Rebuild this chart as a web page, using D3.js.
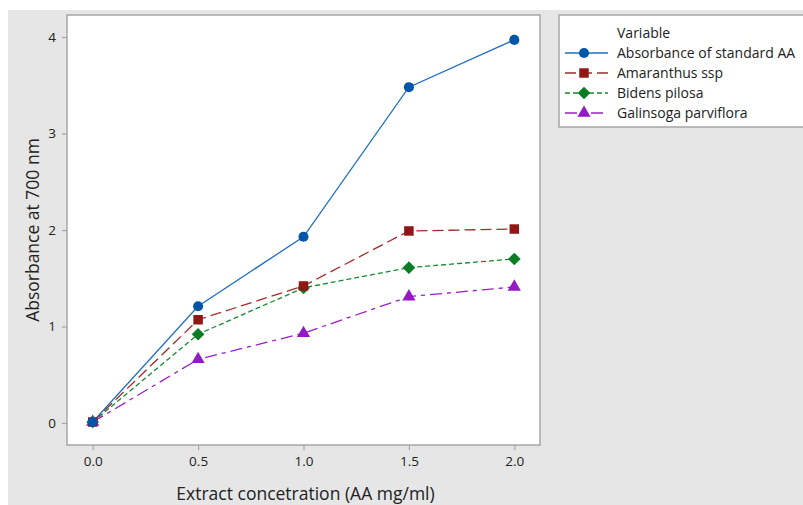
<!DOCTYPE html>
<html>
<head>
<meta charset="utf-8">
<script src="https://cdn.jsdelivr.net/npm/d3@7"></script>
<style>
  body { margin: 0; background: #fff; }
  text { font-family: "Open Sans", "Noto Sans", sans-serif; fill: #222; }
</style>
</head>
<body>
<div id="chart"></div>
<script>
// valeurs
const concentrations = [0.0, 0.5, 1.0, 1.5, 2.0];
const standardAA = [0.01, 1.21, 1.93, 3.48, 3.97];
const amaranthus = [0.01, 1.07, 1.42, 1.99, 2.01];
const bidens = [0.01, 0.92, 1.40, 1.61, 1.70];
const galinsoga = [0.01, 0.66, 0.93, 1.31, 1.41];
const xTicks = [0.0, 0.5, 1.0, 1.5, 2.0];
const yTicks = [0, 1, 2, 3, 4];

// losange "carré tourné" comme dans Minitab
const wideDiamond = {
  draw(ctx, size) {
    const r = Math.sqrt(size / 2);
    ctx.moveTo(0, -r); ctx.lineTo(r, 0); ctx.lineTo(0, r); ctx.lineTo(-r, 0); ctx.closePath();
  }
};

const series = [
  { name: "Absorbance of standard AA", values: standardAA, color: "#1f6fc4", mark: "#0055a8", dash: null, symbol: d3.symbolCircle, size: 80 },
  { name: "Amaranthus ssp", values: amaranthus, color: "#a52a2a", mark: "#931616", dash: "11,5", symbol: d3.symbolSquare, size: 90 },
  { name: "Bidens pilosa", values: bidens, color: "#138a30", mark: "#0a7d22", dash: "5,3", symbol: wideDiamond, size: 80 },
  { name: "Galinsoga parviflora", values: galinsoga, color: "#9a1fc8", mark: "#9519c4", dash: "12,5,4,5", symbol: d3.symbolTriangle, size: 75 }
];

const W = 803, H = 505;
const plot = { left: 67, top: 15, right: 540, bottom: 445 };

const svg = d3.select("#chart").append("svg").attr("width", W).attr("height", H);

// fond gris
svg.append("rect").attr("x", 8).attr("y", 10).attr("width", W - 8).attr("height", H - 10).attr("fill", "#e6e6e6");

svg.append("rect")
  .attr("x", plot.left).attr("y", plot.top)
  .attr("width", plot.right - plot.left).attr("height", plot.bottom - plot.top)
  .attr("fill", "#fff").attr("stroke", "#a6a6a6").attr("stroke-width", 1.5);

const x = d3.scaleLinear().domain([0, 2]).range([92.7, 514.3]);
const y = d3.scaleLinear().domain([0, 4]).range([423, 37]);

// axes
const xAxis = svg.append("g").attr("transform", `translate(0,${plot.bottom})`)
  .call(d3.axisBottom(x).tickValues(xTicks).tickFormat(d3.format(".1f")).tickSize(5).tickPadding(6));
const yAxis = svg.append("g").attr("transform", `translate(${plot.left},0)`)
  .call(d3.axisLeft(y).tickValues(yTicks).tickFormat(d3.format("d")).tickSize(5).tickPadding(6));
[xAxis, yAxis].forEach(a => {
  a.select(".domain").remove();
  a.selectAll(".tick line").attr("stroke", "#a6a6a6").attr("stroke-width", 1.2);
  a.selectAll(".tick text").style("font-size", "13.5px").attr("fill", "#222");
});

svg.append("text").attr("x", (plot.left + plot.right) / 2 + 2).attr("y", 500)
  .attr("text-anchor", "middle").style("font-size", "17.5px").text("Extract concetration (AA mg/ml)");
svg.append("text").attr("transform", `translate(39,${(plot.top + plot.bottom) / 2}) rotate(-90)`)
  .attr("text-anchor", "middle").style("font-size", "17.5px").text("Absorbance at 700 nm");

// courbes
const line = d3.line().x((d, i) => x(concentrations[i])).y(d => y(d));
series.forEach(s => {
  svg.append("path").datum(s.values).attr("d", line)
    .attr("fill", "none").attr("stroke", s.color).attr("stroke-width", 1.3)
    .attr("stroke-dasharray", s.dash);
});
series.slice().reverse().forEach(s => {
  svg.selectAll(null).data(s.values).enter().append("path")
    .attr("transform", (d, i) => `translate(${x(concentrations[i])},${y(d)})`)
    .attr("d", d3.symbol().type(s.symbol).size(s.size))
    .attr("fill", s.mark);
});

// légende
const leg = svg.append("g");
leg.append("rect").attr("x", 559).attr("y", 15).attr("width", 260).attr("height", 112)
  .attr("fill", "#fff").attr("stroke", "#a6a6a6").attr("stroke-width", 1.5);
leg.append("text").attr("x", 617).attr("y", 38).style("font-size", "14px").text("Variable");
series.forEach((s, i) => {
  const cy = 53 + i * 20;
  leg.append("line").attr("x1", 565).attr("x2", 608).attr("y1", cy).attr("y2", cy)
    .attr("stroke", s.color).attr("stroke-width", 1.3).attr("stroke-dasharray", s.dash);
  leg.append("path").attr("transform", `translate(584,${cy})`)
    .attr("d", d3.symbol().type(s.symbol).size(s.size)).attr("fill", s.mark);
  leg.append("text").attr("x", 617).attr("y", cy + 5).style("font-size", "14px").text(s.name);
});
</script>
</body>
</html>
